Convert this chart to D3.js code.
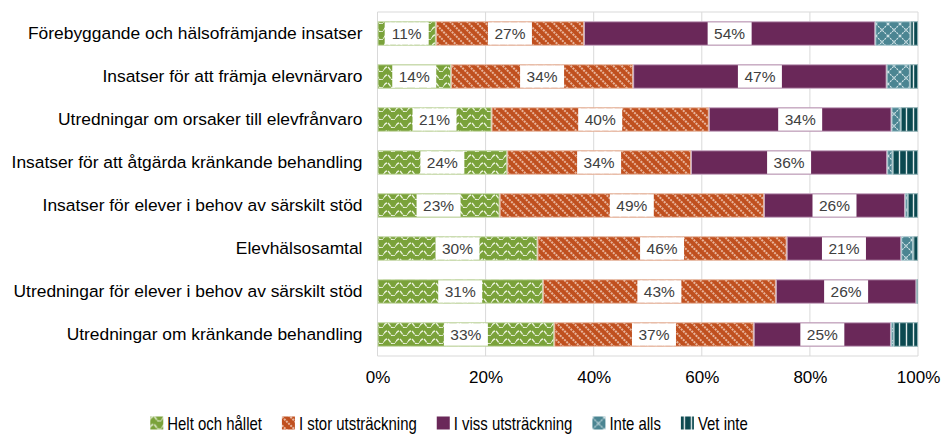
<!DOCTYPE html>
<html>
<head>
<meta charset="utf-8">
<script src="https://cdn.jsdelivr.net/npm/d3@7"></script>
<style>
  body { margin: 0; background: #fff; }
  svg { display: block; font-family: Arial, "Liberation Sans", sans-serif; }
</style>
</head>
<body>
<div id="chart"></div>
<script>
const categories = [
  'Förebyggande och hälsofrämjande insatser',
  'Insatser för att främja elevnärvaro',
  'Utredningar om orsaker till elevfrånvaro',
  'Insatser för att åtgärda kränkande behandling',
  'Insatser för elever i behov av särskilt stöd',
  'Elevhälsosamtal',
  'Utredningar för elever i behov av särskilt stöd',
  'Utredningar om kränkande behandling'
]
const seriesNames = ['Helt och hållet', 'I stor utsträckning', 'I viss utsträckning', 'Inte alls', 'Vet inte']
const heltOchHallet = [10.8, 13.6, 21.1, 24.0, 22.6, 29.6, 30.6, 32.7]
const iStor = [27.4, 33.7, 40.2, 34.0, 48.9, 46.1, 43.1, 36.9]
const iViss = [53.9, 46.9, 33.8, 36.3, 26.1, 21.2, 26.0, 25.4]
const inteAlls = [6.5, 4.3, 1.7, 1.0, 0.5, 2.2, 0, 0.5]
const vetInte = [1.4, 1.5, 3.2, 4.7, 1.9, 0.9, 0.3, 4.5]
const ticks = [0, 0.2, 0.4, 0.6, 0.8, 1]

const W = 942, H = 434
const margin = { top: 12, right: 24, bottom: 78, left: 377.5 }

const svg = d3.select('#chart').append('svg')
    .attr('width', W)
    .attr('height', H)

// patterns
const defs = svg.append('defs')

const pGreen = defs.append('pattern').attr('id', 'p0')
    .attr('patternUnits', 'userSpaceOnUse').attr('width', 12).attr('height', 8)
pGreen.append('rect').attr('width', 12).attr('height', 8).attr('fill', '#7aa23a')
pGreen.append('path').attr('d', 'M0,5.5 Q3,0.5 6,5.5 T12,5.5')
    .attr('fill', 'none').attr('stroke', '#eef4e2').attr('stroke-width', 1.4)
    .attr('stroke-dasharray', '4,1')

const pOrange = defs.append('pattern').attr('id', 'p1')
    .attr('patternUnits', 'userSpaceOnUse').attr('width', 6).attr('height', 6)
    .attr('patternTransform', 'rotate(45)')
pOrange.append('rect').attr('width', 6).attr('height', 6).attr('fill', '#c0501f')
pOrange.append('line').attr('x1', 0).attr('y1', 3).attr('x2', 6).attr('y2', 3)
    .attr('stroke', '#f4d6c6').attr('stroke-width', 1.4).attr('stroke-dasharray', '2,1')

const pTeal = defs.append('pattern').attr('id', 'p3')
    .attr('patternUnits', 'userSpaceOnUse').attr('width', 12).attr('height', 12)
pTeal.append('rect').attr('width', 12).attr('height', 12).attr('fill', '#4b8592')
pTeal.append('path').attr('d', 'M0,0 L12,12 M12,0 L0,12')
    .attr('stroke', '#d6e6ea').attr('stroke-width', 1.1).attr('stroke-dasharray', '2,1')

const pDark = defs.append('pattern').attr('id', 'p4')
    .attr('patternUnits', 'userSpaceOnUse').attr('width', 7).attr('height', 7)
pDark.append('rect').attr('width', 7).attr('height', 7).attr('fill', '#0b4950')
pDark.append('line').attr('x1', 3.5).attr('y1', 0).attr('x2', 3.5).attr('y2', 7)
    .attr('stroke', '#e3ecec').attr('stroke-width', 1.4)

const fills = ['url(#p0)', 'url(#p1)', '#6a2859', 'url(#p3)', 'url(#p4)']
const strokes = ['#c6d9a9', '#e6b7a0', '#c7a8c1', '#a9c7cd', '#8fb0b4']

const x = d3.scaleLinear().domain([0, 1]).range([margin.left, W - margin.right])
const y = d3.scaleBand().domain(categories).range([margin.top, H - margin.bottom]).paddingInner(0.43).paddingOuter(0.215)

// grid
svg.append('g')
  .selectAll('line')
  .data(ticks)
  .enter().append('line')
    .attr('x1', d => x(d)).attr('x2', d => x(d))
    .attr('y1', margin.top).attr('y2', H - margin.bottom)
    .attr('stroke', '#d9d9d9')
svg.append('line')
    .attr('x1', x(0)).attr('x2', x(1))
    .attr('y1', margin.top).attr('y2', margin.top)
    .attr('stroke', '#d9d9d9')
svg.append('line')
    .attr('x1', x(0)).attr('x2', x(1))
    .attr('y1', H - margin.bottom).attr('y2', H - margin.bottom)
    .attr('stroke', '#d9d9d9')

// x axis labels
const xAxis = svg.append('g')
    .attr('transform', `translate(0,${H - margin.bottom})`)
    .call(d3.axisBottom(x).tickValues(ticks).tickFormat(d3.format('.0%')).tickSize(0).tickPadding(15))
xAxis.select('.domain').remove()
xAxis.selectAll('text').attr('font-size', 17).attr('fill', '#000').attr('font-family', 'Arial, "Liberation Sans", sans-serif')

// y axis labels
const yAxis = svg.append('g')
    .attr('transform', `translate(${margin.left},0)`)
    .call(d3.axisLeft(y).tickSize(0).tickPadding(15))
yAxis.select('.domain').remove()
yAxis.selectAll('text').attr('font-size', 17.4).attr('fill', '#000').attr('font-family', 'Arial, "Liberation Sans", sans-serif')

// stacked data
const table = categories.map((c, i) => ({
  cat: c,
  s0: heltOchHallet[i] / 100,
  s1: iStor[i] / 100,
  s2: iViss[i] / 100,
  s3: inteAlls[i] / 100,
  s4: vetInte[i] / 100
}))
const stack = d3.stack().keys(['s0', 's1', 's2', 's3', 's4'])(table)

const layers = svg.append('g')
  .selectAll('g')
  .data(stack)
  .enter().append('g')
    .attr('fill', (d, i) => fills[i])
    .attr('stroke', (d, i) => strokes[i])

layers.selectAll('rect')
  .data(d => d.filter(v => v[1] - v[0] > 0))
  .enter().append('rect')
    .attr('x', d => x(d[0]) + 0.5)
    .attr('y', d => y(d.data.cat) + 0.5)
    .attr('width', d => Math.max(0, x(d[1]) - x(d[0]) - 1))
    .attr('height', y.bandwidth() - 1)

// value labels for first three series
const fmt = d => Math.round(d * 100) + '%'
const labels = svg.append('g')
stack.slice(0, 3).forEach(layer => {
  const g = labels.selectAll(null)
    .data(layer)
    .enter().append('g')
      .attr('transform', d => `translate(${(x(d[0]) + x(d[1])) / 2},${y(d.data.cat) + y.bandwidth() / 2})`)
  g.append('rect')
    .attr('x', -22).attr('width', 44)
    .attr('y', -y.bandwidth() / 2 + 1).attr('height', y.bandwidth() - 2)
    .attr('fill', '#fff')
  g.append('text')
    .attr('text-anchor', 'middle')
    .attr('dy', '0.36em')
    .attr('font-size', 15.5)
    .attr('fill', '#404040')
    .text(d => fmt(d[1] - d[0]))
})

// legend (condensed text like the original)
const squeeze = 0.83
const legend = svg.append('g').attr('transform', `translate(0,${H - 4.5})`)
const items = legend.selectAll('g')
  .data(seriesNames)
  .enter().append('g')
items.append('rect')
    .attr('y', -13).attr('width', 13).attr('height', 13)
    .attr('fill', (d, i) => fills[i])
items.append('text')
    .attr('transform', `translate(17,0) scale(${squeeze},1)`)
    .attr('font-size', 18)
    .attr('fill', '#000')
    .text(d => d)
let pos = 0
const offs = []
items.each(function(d, i) {
  offs.push(pos)
  pos += 17 + this.querySelector('text').getComputedTextLength() * squeeze + 20
})
const total = pos - 20
const start = 449 - total / 2
items.attr('transform', (d, i) => `translate(${start + offs[i]},0)`)
</script>
</body>
</html>
